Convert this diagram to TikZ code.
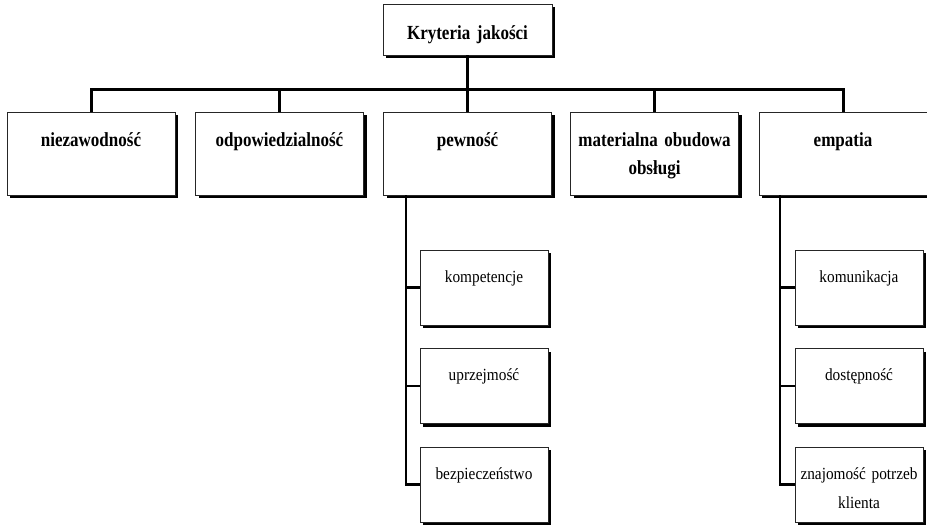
\documentclass[tikz,border=0pt]{standalone}
\usepackage{fontspec}
\setmainfont{Liberation Serif}
\newfontfamily\glownyfont{Liberation Serif}[FakeStretch=0.85]
\newfontfamily\podrzfont{Liberation Serif}[FakeStretch=0.9]
\usetikzlibrary{positioning,shadows}

\begin{document}
\begin{tikzpicture}[x=1pt,y=1pt,
                    kryt/.style={draw=black!85, line width=0.8pt, fill=white,
                      drop shadow={shadow xshift=3pt,shadow yshift=-3pt,opacity=1,fill=black},
                      inner xsep=3pt, inner ysep=0pt, align=center},
                    tytul/.style={kryt, text width=163pt, text height=36pt, text depth=15pt,
                      font=\glownyfont\bfseries\fontsize{20}{24}\selectfont},
                    glowne/.style={kryt, text width=162pt, text height=35pt, text depth=48pt,
                      font=\glownyfont\bfseries\fontsize{20}{28}\selectfont},
                    podkryt/.style={kryt, text width=122pt, text height=32pt, text depth=43pt,
                      font=\podrzfont\fontsize{17}{29}\selectfont},
                    polacz/.style={line width=3pt},
                    polacz2/.style={line width=2.2pt}]

\useasboundingbox (0,0) rectangle (927,-532);

\node[tytul] (tytul) at (467.5,-29.5) {Kryteria jakości};

\node[glowne] (niez) at (91,-153.5) {niezawodność};
\node[glowne] (odp) at (279.5,-153.5) {odpowiedzialność};
\node[glowne] (pewn) at (467.5,-153.5) {pewność};
\node[glowne] (mat) at (654.5,-153.5) {materialna obudowa\\obsługi};
\node[glowne] (emp) at (843,-153.5) {empatia};

\node[podkryt] (komp) at (484,-287.5) {kompetencje};
\node[podkryt] (uprz) at (484,-386) {uprzejmość};
\node[podkryt] (bezp) at (484,-484.5) {bezpieczeństwo};

\node[podkryt] (komu) at (859,-287.5) {komunikacja};
\node[podkryt] (dost) at (859,-386) {dostępność};
\node[podkryt] (znaj) at (859,-484.5) {znajomość potrzeb\\klienta};

\coordinate (szyna) at (467.5,-90);
\coordinate (pstem) at ([xshift=23pt]pewn.south west);
\coordinate (estem) at ([xshift=21pt]emp.south west);

\draw[polacz]
(tytul.south) -- (tytul.south |- szyna)
(niez.north) |- (szyna) -| (emp.north)
(odp.north) -- (odp.north |- szyna)
(pewn.north) -- (pewn.north |- szyna)
(mat.north) -- (mat.north |- szyna);

\draw[polacz2]
(pstem) |- (bezp.west)
(komp.west) -- (komp.west -| pstem)
(uprz.west) -- (uprz.west -| pstem)

(estem) |- (znaj.west)
(komu.west) -- (komu.west -| estem)
(dost.west) -- (dost.west -| estem);

\end{tikzpicture}
\end{document}
